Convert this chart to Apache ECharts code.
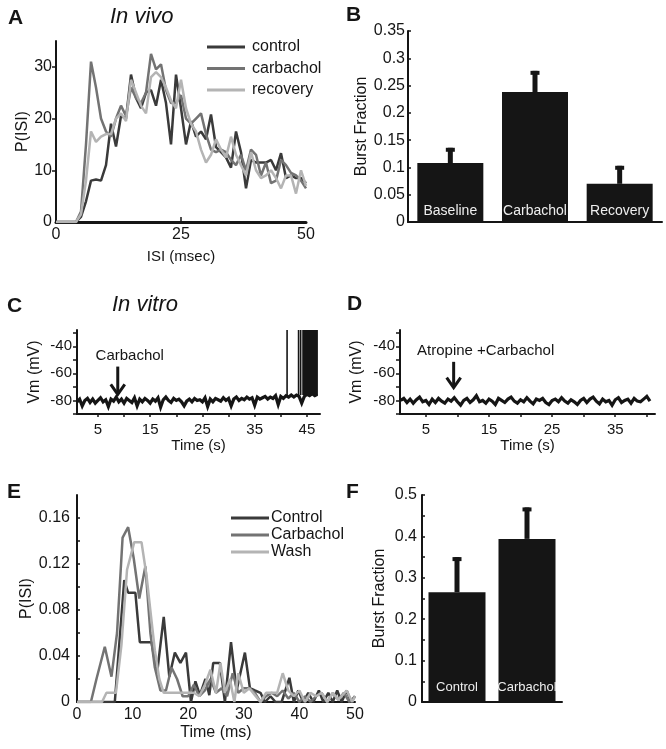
<!DOCTYPE html>
<html>
<head>
<meta charset="utf-8">
<title>Carbachol and burst firing</title>
<script src="https://cdn.jsdelivr.net/npm/echarts@6.0.0/dist/echarts.min.js"></script>
<style>
html,body{margin:0;padding:0;background:#fff;}
#chart{width:666px;height:749px;}
</style>
</head>
<body>
<div id="chart"></div>
<script>
"use strict";

// A - in vivo ISI histograms, 1 ms bins from 0 to 50 ms
var vivoBins = [];
for (var i = 0; i <= 50; i++) vivoBins.push(i);
var vivoControl = [0,0,0,0,0,1,4,8,8.2,8,11,19,14.6,20.5,20,28.5,24,22,25,25.5,22.5,27.5,23,15,28.5,22,15,19.5,16.5,17.5,16,20.8,14.5,13.5,12.5,10.5,17.5,13.5,6.5,12,11.5,11.5,11.5,12,10,13.3,8.5,9,8.5,8.5,7.5];
var vivoCarbachol = [0,0,0,0,0,2,15,31,26,20,17.5,16.5,20,22.5,20.5,26,24,23,25,32.5,29.5,30.5,25.5,23,23,24.5,20,19,20,21,17,14,13.5,14,13.5,12,11,13,10,14,13,9,11.5,7.5,8,12,11,9.5,9,8,6.5];
var vivoRecovery = [0,0,0,0,0,1.5,8,17.5,15.5,16.5,17,17,20,21,19.5,27.5,25,22.5,21,28,29,28,26,23.5,22,27.5,22,19,17.5,14,11.5,13,16,14,12.5,16.5,13,11,9,13.5,10,8.5,9,10,8.5,6.5,9,9,5.5,10,7];

// B - in vivo burst fraction
var vivoCats = ['Baseline', 'Carbachol', 'Recovery'];
var vivoBurst = [0.108, 0.238, 0.07];
var vivoBurstTop = [0.136, 0.277, 0.103];

// C - in vitro recording with carbachol, one sample every 0.5 s from 1 s
var traceStart = 1.0, traceStep = 0.5;
var traceCarb = [
  -81,-79,-84,-80,-78.5,-81.5,-79,-82,-80,-78,
  -81,-79.5,-84.5,-79,-80.5,-77.5,-81,-79,-82,-78.5,
  -80,-81.5,-78,-84,-79,-81,-78.5,-80,-82,-79,
  -80.5,-78,-85,-79.5,-77.5,-80,-81.5,-78.5,-80,-79,
  -81,-84,-80.5,-79,-81,-78.5,-80,-79.5,-81,-78,
  -84.5,-79,-81,-78.5,-79.5,-80.5,-78,-80,-78.5,-84,
  -79,-77.5,-80,-78.5,-79.5,-77.5,-79,-78,-83.5,-77.5,
  -79,-78,-77,-79,-77.5,-78.5,-76.5,-83,-77,-78.5,
  -76.5,-77.5,-76,-77.5,-76,-77,-82,-77,-75.5,-76.5,
  -75,-76.5,-75.5
];
var spikesCarb = [[41.2, -76.5, -28], [43.4, -76, -28], [43.8, -76, -28]];
var burstCarb = [[44.1, 47.1, -76, -28]];
var arrowCarb = [[8.8, -55, -75.5]];

// D - atropine + carbachol
var traceAtro = [
  -80,-78.5,-81.5,-79,-82,-79.5,-77.5,-81,-80,-83,
  -79,-81.5,-78.5,-80.5,-82,-79,-80.5,-78,-81,-83.5,
  -80,-78.5,-81.5,-79.5,-76.5,-81,-80,-82,-79,-80.5,
  -83,-78.5,-80,-81.5,-79,-77.5,-80.5,-82,-79.5,-81,
  -78,-80.5,-82.5,-79,-80,-78.5,-81.5,-83,-80,-79,
  -81,-78,-80.5,-82,-79.5,-81,-83,-80,-78.5,-81.5,
  -79,-77.5,-80.5,-82.5,-79,-81,-80,-83.5,-79.5,-78,
  -81.5,-80,-79,-82,-78.5,-80.5,-81,-79,-77,-80.5
];
var arrowAtro = [[9.4, -51.5, -70.5]];

// E - in vitro ISI distributions [ms, P]
var isiControl = [[0,0],[6.8,0],[7.6,0.05],[8.5,0.106],[9.2,0.095],[10.5,0.095],[11.3,0.052],[13.4,0.052],[14.4,0.025],[15.6,0.074],[16.6,0.022],[17.6,0.043],[18.6,0.034],[19.6,0.043],[20.5,0],[21.3,0.018],[22.1,0.006],[23.1,0.02],[23.8,0.006],[24.5,0.034],[25.7,0.034],[26.6,0],[27.7,0.052],[28.7,0.01],[30.2,0.043],[31.1,0.012],[32,0.01],[33,0.008],[33.8,0],[34.8,0.005],[35.7,0],[36.8,0],[38.2,0.021],[39,0],[39.8,0.01],[40.7,0],[41.6,0.008],[42.5,0],[43.5,0.01],[44.3,0],[45.2,0.008],[46,0],[46.8,0.01],[47.6,0],[48.5,0.01],[49.3,0],[50,0.005]];
var isiCarbachol = [[0,0],[2.5,0],[3.5,0.02],[5,0.048],[6.2,0.022],[7.2,0.06],[8.2,0.143],[9.2,0.152],[10.2,0.125],[11.2,0.09],[12.3,0.118],[13.2,0.06],[14,0.03],[15,0.01],[16,0.01],[17,0.03],[18,0.02],[19,0.005],[20,0.005],[21,0.015],[22,0.005],[23,0.01],[24,0.02],[25,0.008],[26,0.012],[27,0.005],[28,0.025],[29,0.008],[30,0.012],[31,0.012],[32,0.008],[33,0],[34,0.005],[35,0.008],[36,0.005],[37,0.01],[38,0.003],[39,0.008],[40,0],[41,0.005],[42,0],[43,0.005],[44,0.008],[45,0],[46,0.008],[47,0.002],[48,0.008],[49,0],[50,0.005]];
var isiWash = [[0,0],[4.5,0],[5.3,0.008],[7,0.008],[8,0.05],[9,0.115],[10.3,0.139],[11.6,0.139],[12.5,0.11],[13.3,0.075],[14,0.045],[14.8,0.02],[15.6,0.008],[21,0.008],[22,0.005],[23,0.015],[24,0.028],[25,0.008],[25.8,0.034],[26.6,0.008],[27.5,0.02],[28.3,0],[29,0.025],[30,0.008],[31,0.012],[32,0.006],[33,0],[34,0.008],[35,0.008],[36,0.008],[37,0.025],[38,0.01],[39,0.005],[40,0.01],[41,0],[42,0.008],[43,0.005],[44,0.008],[45,0],[46,0.008],[47,0.002],[48.5,0.01],[49.5,0],[50,0.005]];

// F - in vitro burst fraction
var vitroCats = ['Control', 'Carbachol'];
var vitroBurst = [0.265, 0.394];
var vitroBurstTop = [0.35, 0.47];

var FONT = '"Liberation Sans", Arial, sans-serif';
var INK = '#151515';
var GREYS = ['#3a3a3a', '#737373', '#b4b4b4'];

function traceData(vals){
  return vals.map(function(v, k){ return [traceStart + k * traceStep, v]; });
}
function pairs(xs, ys){
  return ys.map(function(v, k){ return [xs[k], v]; });
}

function valueAxis(o){
  return {
    type: 'value', gridIndex: o.g, min: o.min, max: o.max,
    axisLine: {show: true, onZero: false, lineStyle: {color: INK, width: o.lw || 2}},
    axisTick: o.ticks ? {show: true, customValues: o.ticks, inside: !!o.tin, length: o.tl || 4,
      lineStyle: {color: INK, width: 1.5}} : {show: false},
    axisLabel: o.labels ? {show: true, customValues: o.labels, color: INK, fontSize: o.fs || 15,
      fontFamily: FONT, margin: o.lm || 5} : {show: false},
    splitLine: {show: false},
    name: o.name || '', nameLocation: 'middle', nameGap: o.ng || 20,
    nameTextStyle: {color: INK, fontSize: o.nfs || 15, fontFamily: FONT}
  };
}
function catAxis(g, cats){
  return {
    type: 'category', gridIndex: g, data: cats,
    axisLine: {show: true, lineStyle: {color: INK, width: 2}},
    axisTick: {show: false}, axisLabel: {show: false}
  };
}

function errRender(params, api){
  var base = api.coord([api.value(0), api.value(1)]);
  var top = api.coord([api.value(0), api.value(2)]);
  return {type: 'group', children: [
    {type: 'rect', shape: {x: base[0] - 2.5, y: top[1], width: 5, height: base[1] - top[1]}, style: {fill: INK}},
    {type: 'rect', shape: {x: base[0] - 4.5, y: top[1], width: 9, height: 4}, style: {fill: INK}}
  ]};
}
function spikeRender(params, api){
  var a = api.coord([api.value(0), api.value(1)]);
  var b = api.coord([api.value(0), api.value(2)]);
  return {type: 'line', shape: {x1: a[0], y1: a[1], x2: b[0], y2: b[1]}, style: {stroke: INK, lineWidth: 1.6}};
}
function blockRender(params, api){
  var a = api.coord([api.value(0), api.value(3)]);
  var b = api.coord([api.value(1), api.value(2)]);
  return {type: 'rect', shape: {x: a[0], y: a[1], width: b[0] - a[0], height: b[1] - a[1]}, style: {fill: INK}};
}
function arrowRender(label, dx){
  return function(params, api){
    var a = api.coord([api.value(0), api.value(1)]);
    var b = api.coord([api.value(0), api.value(2)]);
    return {type: 'group', children: [
      {type: 'line', shape: {x1: a[0], y1: a[1], x2: b[0], y2: b[1] - 2}, style: {stroke: INK, lineWidth: 3}},
      {type: 'polyline', shape: {points: [[b[0] - 7, b[1] - 10], [b[0], b[1]], [b[0] + 7, b[1] - 10]]},
        style: {stroke: INK, lineWidth: 3, fill: null}},
      {type: 'text', x: a[0] + dx, y: a[1] - 3,
        style: {text: label, font: '15px ' + FONT, fill: INK, textAlign: 'center', textVerticalAlign: 'bottom'}}
    ]};
  };
}

function lineSeries(name, data, color, xi){
  return {
    type: 'line', name: name, xAxisIndex: xi, yAxisIndex: xi, data: data,
    symbol: 'none', color: color, lineStyle: {color: color, width: 2.5}, itemStyle: {color: color},
    animation: false, z: 2
  };
}
function traceSeries(name, vals, xi){
  return {
    type: 'line', name: name, xAxisIndex: xi, yAxisIndex: xi, data: traceData(vals),
    symbol: 'none', lineStyle: {color: INK, width: 3.2, join: 'miter'}, itemStyle: {color: INK}
  };
}
function letter(t, x, y){
  return {type: 'text', x: x, y: y, style: {text: t, font: 'bold 21px ' + FONT, fill: INK}};
}
function heading(t, x, y){
  return {type: 'text', x: x, y: y, style: {text: t, font: 'italic 22px ' + FONT, fill: INK}};
}

var chart = echarts.init(document.getElementById('chart'));

var gridBase = {outerBoundsMode: 'none', containLabel: false};
chart.setOption({
  animation: false,
  backgroundColor: '#fff',
  grid: [
    Object.assign({left: 56, top: 41, width: 250, height: 181}, gridBase),
    Object.assign({left: 408, top: 31, width: 254, height: 191}, gridBase),
    Object.assign({left: 77, top: 330, width: 243, height: 84}, gridBase),
    Object.assign({left: 400, top: 330, width: 255, height: 84}, gridBase),
    Object.assign({left: 77, top: 495, width: 278, height: 207}, gridBase),
    Object.assign({left: 422, top: 495, width: 140, height: 207}, gridBase)
  ],
  xAxis: [
    valueAxis({g: 0, min: 0, max: 50, lw: 3, labels: [0, 25, 50], ticks: [25], tin: true, tl: 5,
      fs: 16, lm: 5, name: 'ISI (msec)', ng: 27}),
    catAxis(1, vivoCats),
    valueAxis({g: 2, min: 1, max: 47.5, labels: [5, 15, 25, 35, 45], ticks: [5,10,15,20,25,30,35,40,45],
      tl: 3, lm: 8, name: 'Time (s)', ng: 22}),
    valueAxis({g: 3, min: 0.9, max: 41.3, labels: [5, 15, 25, 35], ticks: [5,10,15,20,25,30,35,40],
      tl: 3, lm: 8, name: 'Time (s)', ng: 23}),
    valueAxis({g: 4, min: 0, max: 50, labels: [0, 10, 20, 30, 40, 50], fs: 16, lm: 5,
      name: 'Time (ms)', ng: 23, nfs: 16}),
    catAxis(5, vitroCats)
  ],
  yAxis: [
    valueAxis({g: 0, min: 0, max: 35, labels: [0, 10, 20, 30], ticks: [10, 20, 30], tl: 4,
      fs: 16, lm: 4, name: 'P(ISI)', ng: 24, nfs: 16}),
    valueAxis({g: 1, min: 0, max: 0.35, labels: [0,0.05,0.1,0.15,0.2,0.25,0.3,0.35],
      ticks: [0.05,0.1,0.15,0.2,0.25,0.3,0.35], tin: true, tl: 3, fs: 16, lm: 3,
      name: 'Burst Fraction', ng: 38, nfs: 16}),
    valueAxis({g: 2, min: -90, max: -28, labels: [-40, -60, -80], ticks: [-90,-80,-70,-60,-50,-40,-30],
      tl: 4, lm: 5, name: 'Vm (mV)', ng: 34, nfs: 16}),
    valueAxis({g: 3, min: -90, max: -28, labels: [-40, -60, -80], ticks: [-90,-80,-70,-60,-50,-40,-30],
      tl: 4, lm: 5, name: 'Vm (mV)', ng: 35, nfs: 16}),
    valueAxis({g: 4, min: 0, max: 0.18, labels: [0, 0.04, 0.08, 0.12, 0.16],
      ticks: [0.02,0.04,0.06,0.08,0.1,0.12,0.14,0.16], tin: true, tl: 3, fs: 16, lm: 7,
      name: 'P(ISI)', ng: 40, nfs: 16}),
    valueAxis({g: 5, min: 0, max: 0.5, labels: [0, 0.1, 0.2, 0.3, 0.4, 0.5],
      ticks: [0.05,0.1,0.15,0.2,0.25,0.3,0.35,0.4,0.45,0.5], tin: true, tl: 3, fs: 16, lm: 5,
      name: 'Burst Fraction', ng: 34, nfs: 16})
  ],
  legend: [
    {data: ['control', 'carbachol', 'recovery'], orient: 'vertical', left: 202, top: 34,
      icon: 'rect', itemWidth: 38, itemHeight: 3, itemGap: 5.5, selectedMode: false,
      textStyle: {color: INK, fontSize: 16, fontFamily: FONT, lineHeight: 16, padding: [0, 0, 0, 2]}},
    {data: ['Control', 'Carbachol', 'Wash'], orient: 'vertical', left: 226, top: 505,
      icon: 'rect', itemWidth: 38, itemHeight: 3, itemGap: 1, selectedMode: false,
      textStyle: {color: INK, fontSize: 16, fontFamily: FONT, lineHeight: 16, padding: [0, 0, 0, -3]}}
  ],
  graphic: [
    letter('A', 8, 8), heading('In vivo', 110, 6),
    letter('B', 346, 5),
    letter('C', 7, 296), heading('In vitro', 112, 294),
    letter('D', 347, 294),
    letter('E', 7, 482),
    letter('F', 346, 482)
  ],
  series: [
    lineSeries('control', pairs(vivoBins, vivoControl), GREYS[0], 0),
    lineSeries('carbachol', pairs(vivoBins, vivoCarbachol), GREYS[1], 0),
    lineSeries('recovery', pairs(vivoBins, vivoRecovery), GREYS[2], 0),

    {type: 'bar', name: 'vivo burst', xAxisIndex: 1, yAxisIndex: 1, data: vivoBurst, barWidth: 66,
      itemStyle: {color: INK},
      label: {show: true, position: 'insideBottom', distance: 4, formatter: '{b}', color: '#eeeeee',
        fontSize: 14, fontFamily: FONT}},
    {type: 'custom', name: 'vivo err', xAxisIndex: 1, yAxisIndex: 1, renderItem: errRender, z: 3,
      encode: {x: 0, y: [1, 2]},
      data: vivoBurst.map(function(v, k){ return [k, v, vivoBurstTop[k]]; })},

    traceSeries('carb trace', traceCarb, 2),
    {type: 'custom', name: 'carb spikes', xAxisIndex: 2, yAxisIndex: 2, renderItem: spikeRender,
      encode: {x: 0, y: [1, 2]}, data: spikesCarb},
    {type: 'custom', name: 'carb burst', xAxisIndex: 2, yAxisIndex: 2, renderItem: blockRender,
      encode: {x: [0, 1], y: [2, 3]}, data: burstCarb},
    {type: 'custom', name: 'carb arrow', xAxisIndex: 2, yAxisIndex: 2, renderItem: arrowRender('Carbachol', 12),
      encode: {x: 0, y: [1, 2]}, data: arrowCarb, z: 4},

    traceSeries('atro trace', traceAtro, 3),
    {type: 'custom', name: 'atro arrow', xAxisIndex: 3, yAxisIndex: 3,
      renderItem: arrowRender('Atropine +Carbachol', 32), encode: {x: 0, y: [1, 2]}, data: arrowAtro, z: 4},

    lineSeries('Control', isiControl, GREYS[0], 4),
    lineSeries('Carbachol', isiCarbachol, GREYS[1], 4),
    lineSeries('Wash', isiWash, GREYS[2], 4),

    {type: 'bar', name: 'vitro burst', xAxisIndex: 5, yAxisIndex: 5, data: vitroBurst, barWidth: 57,
      itemStyle: {color: INK},
      label: {show: true, position: 'insideBottom', distance: 8, formatter: '{b}', color: '#eeeeee',
        fontSize: 13, fontFamily: FONT}},
    {type: 'custom', name: 'vitro err', xAxisIndex: 5, yAxisIndex: 5, renderItem: errRender, z: 3,
      encode: {x: 0, y: [1, 2]},
      data: vitroBurst.map(function(v, k){ return [k, v, vitroBurstTop[k]]; })}
  ]
});
</script>
</body>
</html>
